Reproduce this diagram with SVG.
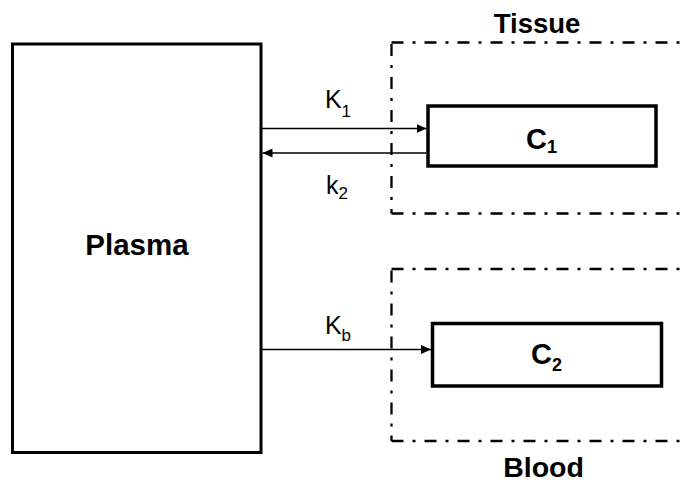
<svg xmlns="http://www.w3.org/2000/svg" width="683" height="484" viewBox="0 0 683 484">
<style>
.box{fill:#fff;stroke:#000}
.dd{fill:none;stroke:#000;stroke-width:2.3;stroke-dasharray:12 9 3 9}
.conn{stroke:#000;stroke-width:1.4;fill:none}
.b{font-family:"Liberation Sans",Arial,sans-serif;font-weight:bold;fill:#000}
.n{font-family:"Liberation Sans",Arial,sans-serif;fill:#000}
</style>
<defs>
<marker id="ah" markerUnits="userSpaceOnUse" markerWidth="11" markerHeight="9" refX="10" refY="4.5" orient="auto">
<path d="M0,0 L10,4.5 L0,9 z" fill="#000"/>
</marker>
</defs>
<rect width="683" height="484" fill="#fff"/>
<g id="tissue">
<path class="dd" d="M391.5,42.5 H700"/>
<path class="dd" d="M391.5,44 V213.5"/>
<path class="dd" d="M391.5,213.5 H700"/>
<text class="b" x="537" y="33" font-size="27.5" text-anchor="middle">Tissue</text>
</g>
<g id="blood">
<path class="dd" d="M391.5,269 H700"/>
<path class="dd" d="M391.5,270.5 V441"/>
<path class="dd" d="M391.5,441 H700"/>
<text class="b" x="543.5" y="476.5" font-size="28.5" text-anchor="middle">Blood</text>
</g>
<g id="plasma">
<rect class="box" x="12.5" y="44" width="248.5" height="408.5" stroke-width="3"/>
<text class="b" x="137" y="255" font-size="29.5" text-anchor="middle">Plasma</text>
</g>
<g id="c1">
<rect class="box" x="428" y="106" width="228" height="60" stroke-width="3.5"/>
<text class="b" x="541.5" y="149" font-size="29" text-anchor="middle">C<tspan font-size="18" dy="4">1</tspan></text>
</g>
<g id="c2">
<rect class="box" x="432.5" y="323.5" width="229" height="62.5" stroke-width="3.5"/>
<text class="b" x="546.5" y="364" font-size="29" text-anchor="middle">C<tspan font-size="18" dy="7">2</tspan></text>
</g>
<g id="connectors">
<line class="conn" x1="261" y1="128.5" x2="426.5" y2="128.5" marker-end="url(#ah)"/>
<line class="conn" x1="426.5" y1="153" x2="262.5" y2="153" marker-end="url(#ah)"/>
<line class="conn" x1="261" y1="349.5" x2="431" y2="349.5" marker-end="url(#ah)"/>
<text class="n" x="338" y="107.5" font-size="25" text-anchor="middle">K<tspan font-size="17" dy="9">1</tspan></text>
<text class="n" x="337" y="193.5" font-size="25" text-anchor="middle">k<tspan font-size="17" dy="5">2</tspan></text>
<text class="n" x="338" y="333.5" font-size="25" text-anchor="middle">K<tspan font-size="17" dy="7">b</tspan></text>
</g>
</svg>
